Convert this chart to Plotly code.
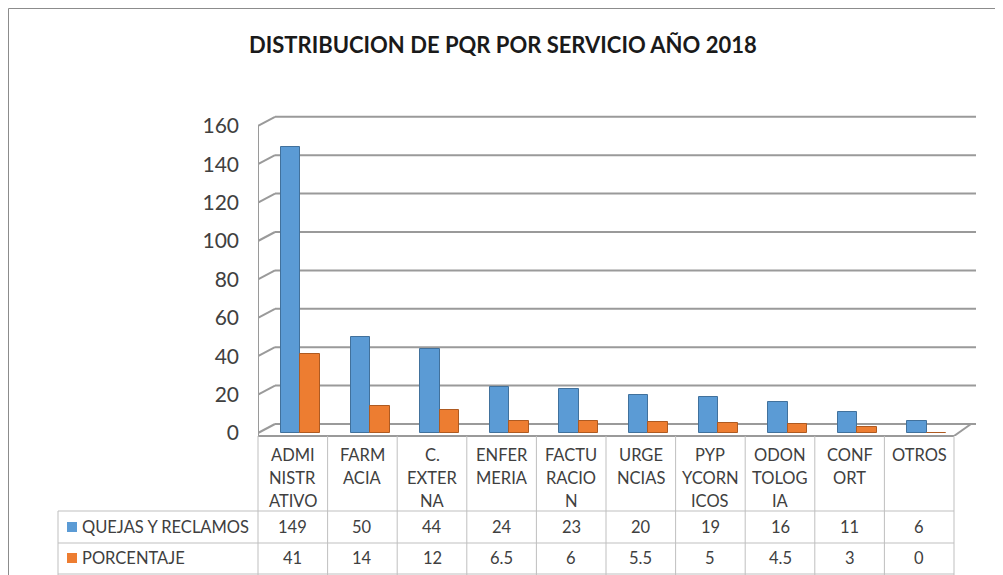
import plotly.graph_objects as go

# ---------------- data ----------------
cat_lines = [["ADMI", "NISTR", "ATIVO"], ["FARM", "ACIA"], ["C.", "EXTER", "NA"],
             ["ENFER", "MERIA"], ["FACTU", "RACIO", "N"], ["URGE", "NCIAS"],
             ["PYP", "YCORN", "ICOS"], ["ODON", "TOLOG", "IA"], ["CONF", "ORT"], ["OTROS"]]
categories = ["".join(l) for l in cat_lines]
quejas = [149, 50, 44, 24, 23, 20, 19, 16, 11, 6]
porcentaje = [41, 14, 12, 6.5, 6, 5.5, 5, 4.5, 3, 0]
quejas_txt = ["149", "50", "44", "24", "23", "20", "19", "16", "11", "6"]
porc_txt = ["41", "14", "12", "6.5", "6", "5.5", "5", "4.5", "3", "0"]
series_names = ["QUEJAS Y RECLAMOS", "PORCENTAJE"]
y_ticks = [0, 20, 40, 60, 80, 100, 120, 140, 160]
title = "DISTRIBUCION DE PQR POR SERVICIO AÑO 2018"

# ---------------- layout geometry (page pixels; page body has an 8px margin) ----------------
O = 8
W, H = 1003 - O, 575 - O
Lp, Rp, Tp, Bp = 258, 976, 105, 436      # plot area in page pixels
L, R, T, B = Lp - O, Rp - O, Tp - O, Bp - O
col_w = 69.6
zero_p = 433 - O
k = 1.92  # px per unit
y_lo = -(B - zero_p) / k
y_hi = (zero_p - T) / k
x_lo = -0.5
x_hi = x_lo + (R - L) / col_w
dx = 17 / col_w      # 3D depth offset (x, in category units)
dy = 9 / k           # 3D depth offset (y, in data units)

BLUE, BLUE_D = "#5B9BD5", "#41719C"
ORANGE, ORANGE_D = "#ED7D31", "#AE5A21"
GRID = "#9A9A9A"
TBL = "#BFBFBF"
TXT = "#404040"
FONT = "Lato"


def py(p):  # page pixel -> paper y
    return (B - (p - O)) / (B - T)


def px(p):  # page pixel -> paper x
    return ((p - O) - L) / (R - L)


fig = go.Figure()
fig.add_bar(x=categories, y=quejas, name=series_names[0], width=0.28, offset=-0.17,
            marker=dict(color=BLUE, line=dict(color=BLUE_D, width=1)), showlegend=False)
fig.add_bar(x=categories, y=porcentaje, name=series_names[1], width=0.28, offset=0.11,
            marker=dict(color=ORANGE, line=dict(color=ORANGE_D, width=1)), showlegend=False)

shapes = []
# back wall gridlines + left wall diagonals
for v in y_ticks:
    shapes.append(dict(type="line", xref="x", yref="y", x0=x_lo + dx, x1=x_hi, y0=v + dy, y1=v + dy,
                       line=dict(color=GRID, width=2), layer="below"))
    shapes.append(dict(type="line", xref="x", yref="y", x0=x_lo, x1=x_lo + dx, y0=v, y1=v + dy,
                       line=dict(color=GRID, width=2), layer="below"))
# left wall front edge
shapes.append(dict(type="line", xref="x", yref="y", x0=x_lo, x1=x_lo, y0=y_lo, y1=y_ticks[-1],
                   line=dict(color=GRID, width=2), layer="below"))
# floor right diagonal
n = len(categories)
shapes.append(dict(type="line", xref="x", yref="y", x0=n - 0.5, x1=n - 0.5 + dx, y0=y_lo, y1=dy,
                   line=dict(color=GRID, width=2), layer="below"))

# data table
tbl_right = Lp + n * col_w
for p in [511, 543, 574]:
    shapes.append(dict(type="line", xref="paper", yref="paper", x0=px(58), x1=px(tbl_right),
                       y0=py(p), y1=py(p), line=dict(color=TBL, width=1)))
# floor front edge / table top
shapes.append(dict(type="line", xref="paper", yref="paper", x0=0, x1=px(tbl_right),
                   y0=py(Bp), y1=py(Bp), line=dict(color=GRID, width=2)))
for i in range(n + 1):
    xx = px(Lp + i * col_w)
    shapes.append(dict(type="line", xref="paper", yref="paper", x0=xx, x1=xx,
                       y0=py(Bp), y1=py(576), line=dict(color=TBL, width=1)))
shapes.append(dict(type="line", xref="paper", yref="paper", x0=px(58), x1=px(58),
                   y0=py(511), y1=py(576), line=dict(color=TBL, width=1)))
# legend keys
for p, c in [(527, BLUE), (558, ORANGE)]:
    shapes.append(dict(type="rect", xref="paper", yref="paper", x0=px(67), x1=px(77),
                       y0=py(p - 5), y1=py(p + 5), line=dict(width=0), fillcolor=c))
# chart border
shapes.append(dict(type="rect", xref="paper", yref="paper", x0=px(8.5), x1=px(1020),
                   y0=py(590), y1=py(8.5), line=dict(color="#8C8C8C", width=1)))

ann = []
cell_font = dict(size=16.5, color=TXT, family=FONT)
line_y = [455, 478, 501]
for i, lines in enumerate(cat_lines):
    for j, t in enumerate(lines):
        ann.append(dict(x=i, xref="x", y=py(line_y[j]), yref="paper", text=t, showarrow=False,
                        xanchor="center", yanchor="middle", font=cell_font))
    ann.append(dict(x=i, xref="x", y=py(527), yref="paper", text=quejas_txt[i], showarrow=False,
                    xanchor="center", yanchor="middle", font=cell_font))
    ann.append(dict(x=i, xref="x", y=py(558), yref="paper", text=porc_txt[i], showarrow=False,
                    xanchor="center", yanchor="middle", font=cell_font))
for p, t in [(527, series_names[0]), (558, series_names[1])]:
    ann.append(dict(x=px(80), xref="paper", y=py(p), yref="paper", text=t, showarrow=False,
                    xanchor="left", yanchor="middle", font=cell_font))
ann.append(dict(x=px(502.5), xref="paper", y=py(44), yref="paper", text="<b>" + title + "</b>",
                showarrow=False, xanchor="center", yanchor="middle",
                font=dict(size=22, color="#1a1a1a", family=FONT)))

fig.update_layout(
    width=W, height=H, margin=dict(l=L, r=W - R, t=T, b=H - B, autoexpand=False),
    paper_bgcolor="white", plot_bgcolor="white", showlegend=False,
    bargap=0, shapes=shapes, annotations=ann, hovermode=False,
    font=dict(family=FONT, color=TXT),
)
fig.update_xaxes(range=[x_lo, x_hi], showticklabels=False, showgrid=False, zeroline=False,
                 showline=False, ticks="")
fig.update_yaxes(range=[y_lo, y_hi], tickvals=y_ticks, showgrid=False, zeroline=False,
                 showline=False, ticks="", ticklabelstandoff=18,
                 tickfont=dict(size=21, color=TXT, family=FONT))

fig.write_html("out.html")
